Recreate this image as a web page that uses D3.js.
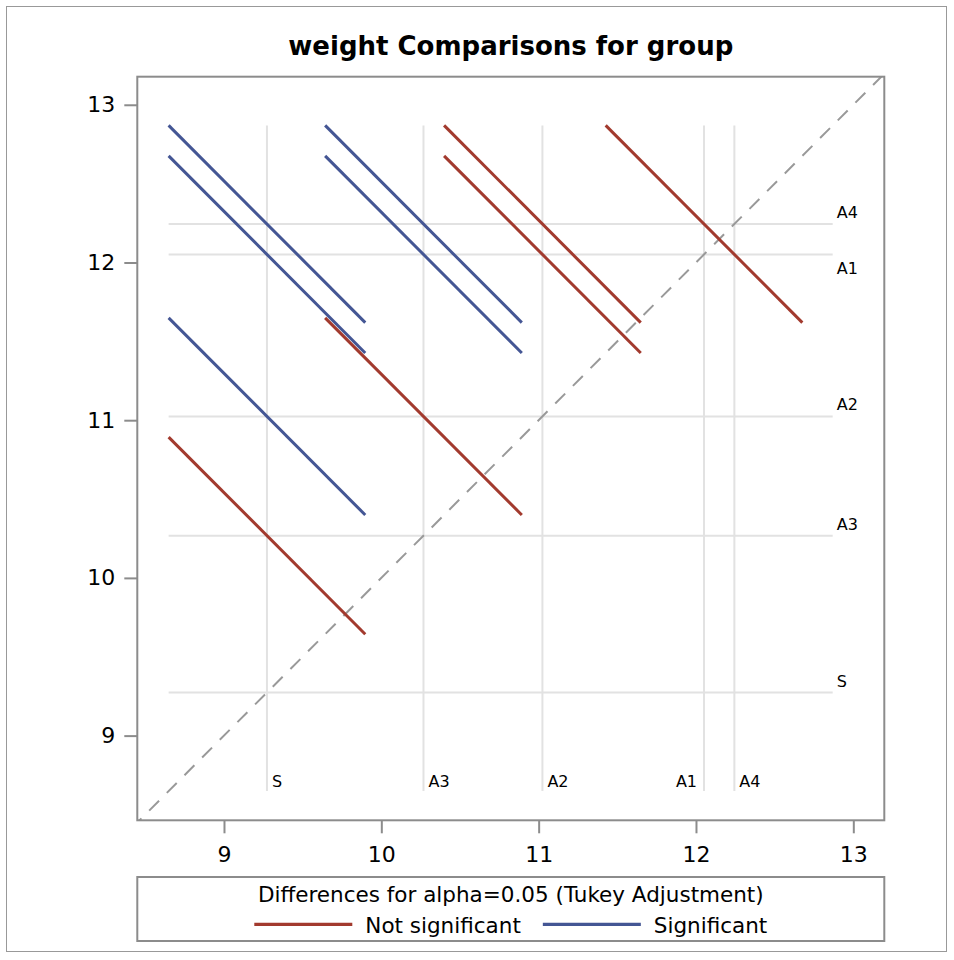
<!DOCTYPE html>
<html>
<head>
<meta charset="utf-8">
<script src="https://cdn.jsdelivr.net/npm/d3@7"></script>
<style>
  html, body { margin: 0; padding: 0; background: #fff; }
  svg { display: block; font-family: "DejaVu Sans", Verdana, sans-serif; }
</style>
</head>
<body>
<svg id="chart" width="954" height="960"></svg>
<script>
// Group least-squares means (same value on both axes)
const groups = ["S", "A3", "A2", "A1", "A4"];
const means  = [9.273, 10.268, 11.024, 12.051, 12.244];

// Half-length of each comparison segment along x (Tukey-adjusted CI half-width / 2)
const halfWidth = 0.625;

// Pairwise comparisons: lower-mean group on x, higher-mean group on y
const pairLow   = ["S",  "S",  "S",  "S",  "A3", "A3", "A3", "A2", "A2", "A1"];
const pairHigh  = ["A3", "A2", "A1", "A4", "A2", "A1", "A4", "A1", "A4", "A4"];
const pairSignificant = [false, true, true, true, false, true, true, false, false, false];

const xTicks = [9, 10, 11, 12, 13];
const yTicks = [9, 10, 11, 12, 13];

const titleText  = "weight Comparisons for group";
const legendTitle = "Differences for alpha=0.05 (Tukey Adjustment)";
const legendLabels = ["Not significant", "Significant"];

const colNS = "#A23A2E";
const colSig = "#445694";

const svg = d3.select("#chart");

// outer border
svg.append("rect")
  .attr("x", 6.5).attr("y", 6.5).attr("width", 940).attr("height", 945)
  .attr("fill", "none").attr("stroke", "#999").attr("stroke-width", 1);

const frame = { left: 137.3, right: 884.3, top: 76.7, bottom: 820.3 };

const x = d3.scaleLinear().domain([8.449, 13.197]).range([frame.left, frame.right]);
const y = d3.scaleLinear().domain([8.463, 13.178]).range([frame.bottom, frame.top]);

const meanOf = Object.fromEntries(groups.map((g, i) => [g, means[i]]));
const lo = d3.min(means) - halfWidth;
const hi = d3.max(means) + halfWidth;

// clip for anything drawn inside the frame
svg.append("clipPath").attr("id", "plotclip")
  .append("rect")
  .attr("x", frame.left).attr("y", frame.top)
  .attr("width", frame.right - frame.left).attr("height", frame.bottom - frame.top);

const plot = svg.append("g").attr("clip-path", "url(#plotclip)");

// reference lines at each group mean
const refColor = "#e2e2e2";
plot.selectAll("line.href").data(groups).join("line")
  .attr("class", "href")
  .attr("x1", x(lo)).attr("x2", x(hi))
  .attr("y1", g => y(meanOf[g])).attr("y2", g => y(meanOf[g]))
  .attr("stroke", refColor).attr("stroke-width", 2);

plot.selectAll("line.vref").data(groups).join("line")
  .attr("class", "vref")
  .attr("y1", y(lo)).attr("y2", y(hi))
  .attr("x1", g => x(meanOf[g])).attr("x2", g => x(meanOf[g]))
  .attr("stroke", refColor).attr("stroke-width", 2);

// a label sits on the low side of its line when the next mean is very close
const sorted = groups.slice().sort((a, b) => meanOf[a] - meanOf[b]);
const flip = {};
sorted.forEach((g, i) => {
  const next = sorted[i + 1];
  flip[g] = next !== undefined && meanOf[next] - meanOf[g] < 0.3;
});

svg.selectAll("text.hlab").data(groups).join("text")
  .attr("class", "hlab")
  .attr("x", x(hi) + 4)
  .attr("y", g => y(meanOf[g]) + (flip[g] ? 20 : -6))
  .attr("font-size", 16).attr("fill", "#000")
  .text(g => g);

svg.selectAll("text.vlab").data(groups).join("text")
  .attr("class", "vlab")
  .attr("x", g => x(meanOf[g]) + (flip[g] ? -7 : 5))
  .attr("y", y(lo) - 4.5)
  .attr("text-anchor", g => flip[g] ? "end" : "start")
  .attr("font-size", 16).attr("fill", "#000")
  .text(g => g);

// diagonal y = x
plot.append("line")
  .attr("x1", x(8.3)).attr("y1", y(8.3))
  .attr("x2", x(13.4)).attr("y2", y(13.4))
  .attr("stroke", "#999").attr("stroke-width", 2)
  .attr("stroke-dasharray", "14,11");

// comparison segments, slope -1, centred on (low mean, high mean)
const pairs = pairLow.map((a, i) => ({
  xm: meanOf[a], ym: meanOf[pairHigh[i]], sig: pairSignificant[i]
}));
const order = pairs.slice().sort((a, b) => (a.sig === b.sig ? 0 : a.sig ? 1 : -1));
plot.selectAll("line.seg").data(order).join("line")
  .attr("class", "seg")
  .attr("x1", d => x(d.xm - halfWidth)).attr("y1", d => y(d.ym + halfWidth))
  .attr("x2", d => x(d.xm + halfWidth)).attr("y2", d => y(d.ym - halfWidth))
  .attr("stroke", d => d.sig ? colSig : colNS)
  .attr("stroke-width", 3);

// frame
svg.append("rect")
  .attr("x", frame.left).attr("y", frame.top)
  .attr("width", frame.right - frame.left).attr("height", frame.bottom - frame.top)
  .attr("fill", "none").attr("stroke", "#8c8c8c").attr("stroke-width", 2);

// axes
const axisColor = "#8c8c8c";
const xAxis = svg.append("g")
  .attr("transform", `translate(0,${frame.bottom})`)
  .call(d3.axisBottom(x).tickValues(xTicks).tickSize(13).tickPadding(13).tickFormat(d3.format("d")));
const yAxis = svg.append("g")
  .attr("transform", `translate(${frame.left},0)`)
  .call(d3.axisLeft(y).tickValues(yTicks).tickSize(13).tickPadding(9).tickFormat(d3.format("d")));
[xAxis, yAxis].forEach(a => {
  a.select(".domain").remove();
  a.selectAll(".tick line").attr("stroke", axisColor).attr("stroke-width", 2);
  a.selectAll(".tick text").attr("font-size", 22).attr("fill", "#000")
    .attr("font-family", "'DejaVu Sans', Verdana, sans-serif");
});

// title
svg.append("text")
  .attr("x", (frame.left + frame.right) / 2).attr("y", 55)
  .attr("text-anchor", "middle")
  .attr("font-size", 26).attr("font-weight", "bold").attr("fill", "#000")
  .text(titleText);

// legend
const lg = { left: 137.3, right: 884.3, top: 877, bottom: 941 };
svg.append("rect")
  .attr("x", lg.left).attr("y", lg.top)
  .attr("width", lg.right - lg.left).attr("height", lg.bottom - lg.top)
  .attr("fill", "none").attr("stroke", "#8c8c8c").attr("stroke-width", 2);

const cx = (lg.left + lg.right) / 2;
svg.append("text")
  .attr("x", cx).attr("y", 901.7)
  .attr("text-anchor", "middle").attr("font-size", 21.5).attr("fill", "#000")
  .text(legendTitle);

const itemColors = [colNS, colSig];
const lineLen = 98, gapLT = 13, gapItems = 22;
const items = svg.append("g");
const widths = legendLabels.map(t => {
  const tmp = items.append("text").attr("font-size", 21.5).text(t);
  const w = tmp.node().getComputedTextLength();
  tmp.remove();
  return w;
});
const total = d3.sum(widths) + legendLabels.length * (lineLen + gapLT) + gapItems * (legendLabels.length - 1);
let cur = cx - total / 2;
legendLabels.forEach((t, i) => {
  items.append("line")
    .attr("x1", cur).attr("x2", cur + lineLen)
    .attr("y1", 924.3).attr("y2", 924.3)
    .attr("stroke", itemColors[i]).attr("stroke-width", 3.2);
  items.append("text")
    .attr("x", cur + lineLen + gapLT).attr("y", 933)
    .attr("font-size", 21.5).attr("fill", "#000")
    .text(t);
  cur += lineLen + gapLT + widths[i] + gapItems;
});
</script>
</body>
</html>
